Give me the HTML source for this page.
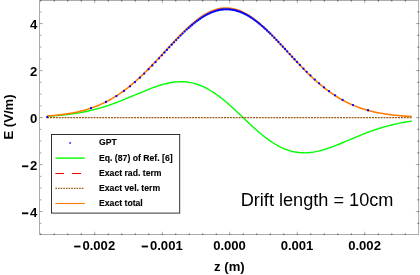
<!DOCTYPE html>
<html><head><meta charset="utf-8"><title>plot</title>
<style>
html,body{margin:0;padding:0;background:#fff;}
body{width:420px;height:275px;overflow:hidden;}
svg{display:block;will-change:transform;}
text{font-family:"Liberation Sans",sans-serif;fill:#000;}
.tl text{font-weight:bold;font-size:13.1px;}
.lg text{font-weight:bold;font-size:8.66px;stroke:#000;stroke-width:0.12px;}
</style></head><body>
<svg width="420" height="275" viewBox="0 0 420 275">
<rect width="420" height="275" fill="#fff"/>
<path d="M47.12,116.25 L48.33,116.17 L49.55,116.10 L50.76,116.02 L51.98,115.94 L53.20,115.85 L54.41,115.76 L55.63,115.66 L56.84,115.56 L58.06,115.46 L59.28,115.35 L60.49,115.24 L61.71,115.12 L62.92,115.00 L64.14,114.87 L65.36,114.73 L66.57,114.59 L67.79,114.45 L69.00,114.30 L70.22,114.14 L71.43,113.98 L72.65,113.81 L73.87,113.63 L75.08,113.45 L76.30,113.26 L77.51,113.06 L78.73,112.86 L79.95,112.64 L81.16,112.43 L82.38,112.20 L83.59,111.97 L84.81,111.72 L86.03,111.48 L87.24,111.22 L88.46,110.95 L89.67,110.68 L90.89,110.40 L92.10,110.11 L93.32,109.81 L94.54,109.50 L95.75,109.19 L96.97,108.86 L98.18,108.53 L99.40,108.19 L100.62,107.84 L101.83,107.48 L103.05,107.12 L104.26,106.74 L105.48,106.36 L106.70,105.97 L107.91,105.57 L109.13,105.16 L110.34,104.75 L111.56,104.32 L112.77,103.89 L113.99,103.45 L115.21,103.01 L116.42,102.55 L117.64,102.09 L118.85,101.63 L120.07,101.16 L121.29,100.68 L122.50,100.19 L123.72,99.71 L124.93,99.21 L126.15,98.71 L127.37,98.21 L128.58,97.70 L129.80,97.20 L131.01,96.68 L132.23,96.17 L133.44,95.65 L134.66,95.14 L135.88,94.62 L137.09,94.10 L138.31,93.59 L139.52,93.07 L140.74,92.56 L141.96,92.05 L143.17,91.54 L144.39,91.04 L145.60,90.54 L146.82,90.05 L148.04,89.56 L149.25,89.08 L150.47,88.61 L151.68,88.14 L152.90,87.69 L154.12,87.25 L155.33,86.81 L156.55,86.39 L157.76,85.98 L158.98,85.59 L160.19,85.21 L161.41,84.84 L162.63,84.49 L163.84,84.16 L165.06,83.85 L166.27,83.55 L167.49,83.27 L168.71,83.01 L169.92,82.78 L171.14,82.56 L172.35,82.37 L173.57,82.20 L174.79,82.05 L176.00,81.93 L177.22,81.83 L178.43,81.76 L179.65,81.72 L180.86,81.70 L182.08,81.71 L183.30,81.75 L184.51,81.81 L185.73,81.91 L186.94,82.03 L188.16,82.19 L189.38,82.37 L190.59,82.59 L191.81,82.83 L193.02,83.11 L194.24,83.42 L195.46,83.76 L196.67,84.13 L197.89,84.53 L199.10,84.97 L200.32,85.43 L201.53,85.93 L202.75,86.45 L203.97,87.01 L205.18,87.60 L206.40,88.22 L207.61,88.87 L208.83,89.55 L210.05,90.26 L211.26,90.99 L212.48,91.76 L213.69,92.55 L214.91,93.37 L216.13,94.21 L217.34,95.08 L218.56,95.97 L219.77,96.89 L220.99,97.83 L222.20,98.79 L223.42,99.78 L224.64,100.78 L225.85,101.80 L227.07,102.84 L228.28,103.90 L229.50,104.97 L230.72,106.05 L231.93,107.15 L233.15,108.26 L234.36,109.38 L235.58,110.51 L236.80,111.65 L238.01,112.80 L239.23,113.95 L240.44,115.10 L241.66,116.26 L242.87,117.42 L244.09,118.58 L245.31,119.73 L246.52,120.88 L247.74,122.03 L248.95,123.17 L250.17,124.31 L251.39,125.44 L252.60,126.56 L253.82,127.67 L255.03,128.76 L256.25,129.85 L257.47,130.92 L258.68,131.97 L259.90,133.01 L261.11,134.03 L262.33,135.03 L263.54,136.01 L264.76,136.96 L265.98,137.90 L267.19,138.81 L268.41,139.70 L269.62,140.57 L270.84,141.41 L272.06,142.22 L273.27,143.01 L274.49,143.77 L275.70,144.50 L276.92,145.20 L278.14,145.87 L279.35,146.51 L280.57,147.13 L281.78,147.71 L283.00,148.26 L284.21,148.78 L285.43,149.26 L286.65,149.72 L287.86,150.15 L289.08,150.54 L290.29,150.90 L291.51,151.23 L292.73,151.53 L293.94,151.79 L295.16,152.03 L296.37,152.23 L297.59,152.41 L298.81,152.55 L300.02,152.67 L301.24,152.75 L302.45,152.80 L303.67,152.83 L304.88,152.83 L306.10,152.80 L307.32,152.74 L308.53,152.66 L309.75,152.55 L310.96,152.42 L312.18,152.26 L313.40,152.08 L314.61,151.88 L315.83,151.65 L317.04,151.40 L318.26,151.14 L319.48,150.85 L320.69,150.54 L321.91,150.22 L323.12,149.88 L324.34,149.52 L325.56,149.14 L326.77,148.75 L327.99,148.35 L329.20,147.94 L330.42,147.51 L331.63,147.07 L332.85,146.62 L334.07,146.16 L335.28,145.69 L336.50,145.22 L337.71,144.73 L338.93,144.24 L340.15,143.75 L341.36,143.25 L342.58,142.74 L343.79,142.23 L345.01,141.72 L346.23,141.21 L347.44,140.69 L348.66,140.18 L349.87,139.66 L351.09,139.14 L352.30,138.63 L353.52,138.12 L354.74,137.60 L355.95,137.10 L357.17,136.59 L358.38,136.09 L359.60,135.59 L360.82,135.10 L362.03,134.61 L363.25,134.13 L364.46,133.65 L365.68,133.18 L366.90,132.71 L368.11,132.25 L369.33,131.80 L370.54,131.36 L371.76,130.92 L372.97,130.49 L374.19,130.07 L375.41,129.65 L376.62,129.25 L377.84,128.85 L379.05,128.46 L380.27,128.08 L381.49,127.71 L382.70,127.34 L383.92,126.99 L385.13,126.64 L386.35,126.30 L387.57,125.97 L388.78,125.65 L390.00,125.33 L391.21,125.03 L392.43,124.73 L393.64,124.45 L394.86,124.17 L396.08,123.90 L397.29,123.63 L398.51,123.38 L399.72,123.13 L400.94,122.89 L402.16,122.66 L403.37,122.44 L404.59,122.22 L405.80,122.02 L407.02,121.82 L408.24,121.62 L409.45,121.43 L410.67,121.25 L411.88,121.08" fill="none" stroke="#00ff00" stroke-width="1.4" stroke-linejoin="round"/>
<path d="M47.12,117.5H411.88" fill="none" stroke="#9c5a1a" stroke-width="1.25" stroke-dasharray="2 0.9"/>
<path d="M47.12,116.04 L48.33,115.96 L49.55,115.86 L50.76,115.77 L51.98,115.66 L53.20,115.56 L54.41,115.44 L55.63,115.32 L56.84,115.20 L58.06,115.07 L59.28,114.93 L60.49,114.79 L61.71,114.64 L62.92,114.48 L64.14,114.31 L65.36,114.14 L66.57,113.96 L67.79,113.77 L69.00,113.57 L70.22,113.37 L71.43,113.15 L72.65,112.92 L73.87,112.69 L75.08,112.44 L76.30,112.19 L77.51,111.92 L78.73,111.64 L79.95,111.36 L81.16,111.06 L82.38,110.74 L83.59,110.42 L84.81,110.08 L86.03,109.73 L87.24,109.37 L88.46,108.99 L89.67,108.60 L90.89,108.19 L92.10,107.77 L93.32,107.34 L94.54,106.89 L95.75,106.42 L96.97,105.94 L98.18,105.45 L99.40,104.93 L100.62,104.40 L101.83,103.85 L103.05,103.29 L104.26,102.71 L105.48,102.11 L106.70,101.49 L107.91,100.85 L109.13,100.20 L110.34,99.53 L111.56,98.84 L112.77,98.13 L113.99,97.40 L115.21,96.65 L116.42,95.88 L117.64,95.09 L118.85,94.29 L120.07,93.46 L121.29,92.61 L122.50,91.75 L123.72,90.86 L124.93,89.96 L126.15,89.04 L127.37,88.10 L128.58,87.13 L129.80,86.15 L131.01,85.15 L132.23,84.14 L133.44,83.10 L134.66,82.05 L135.88,80.97 L137.09,79.89 L138.31,78.78 L139.52,77.66 L140.74,76.52 L141.96,75.36 L143.17,74.19 L144.39,73.01 L145.60,71.81 L146.82,70.60 L148.04,69.37 L149.25,68.13 L150.47,66.88 L151.68,65.62 L152.90,64.35 L154.12,63.07 L155.33,61.78 L156.55,60.48 L157.76,59.18 L158.98,57.87 L160.19,56.56 L161.41,55.24 L162.63,53.91 L163.84,52.59 L165.06,51.26 L166.27,49.94 L167.49,48.61 L168.71,47.29 L169.92,45.97 L171.14,44.65 L172.35,43.34 L173.57,42.04 L174.79,40.74 L176.00,39.46 L177.22,38.18 L178.43,36.91 L179.65,35.66 L180.86,34.42 L182.08,33.19 L183.30,31.99 L184.51,30.79 L185.73,29.62 L186.94,28.47 L188.16,27.33 L189.38,26.22 L190.59,25.13 L191.81,24.07 L193.02,23.03 L194.24,22.02 L195.46,21.04 L196.67,20.08 L197.89,19.15 L199.10,18.26 L200.32,17.40 L201.53,16.57 L202.75,15.77 L203.97,15.01 L205.18,14.28 L206.40,13.59 L207.61,12.94 L208.83,12.32 L210.05,11.74 L211.26,11.21 L212.48,10.71 L213.69,10.25 L214.91,9.83 L216.13,9.46 L217.34,9.12 L218.56,8.83 L219.77,8.58 L220.99,8.38 L222.20,8.22 L223.42,8.10 L224.64,8.02 L225.85,7.99 L227.07,8.00 L228.28,8.06 L229.50,8.16 L230.72,8.30 L231.93,8.49 L233.15,8.72 L234.36,8.99 L235.58,9.31 L236.80,9.66 L238.01,10.06 L239.23,10.51 L240.44,10.99 L241.66,11.51 L242.87,12.07 L244.09,12.68 L245.31,13.32 L246.52,13.99 L247.74,14.71 L248.95,15.46 L250.17,16.24 L251.39,17.06 L252.60,17.92 L253.82,18.80 L255.03,19.72 L256.25,20.67 L257.47,21.64 L258.68,22.65 L259.90,23.68 L261.11,24.74 L262.33,25.82 L263.54,26.93 L264.76,28.06 L265.98,29.21 L267.19,30.38 L268.41,31.57 L269.62,32.77 L270.84,34.00 L272.06,35.24 L273.27,36.49 L274.49,37.76 L275.70,39.04 L276.92,40.32 L278.14,41.62 L279.35,42.93 L280.57,44.24 L281.78,45.56 L283.00,46.88 L284.21,48.21 L285.43,49.54 L286.65,50.87 L287.86,52.20 L289.08,53.53 L290.29,54.85 L291.51,56.18 L292.73,57.50 L293.94,58.81 L295.16,60.12 L296.37,61.43 L297.59,62.72 L298.81,64.01 L300.02,65.29 L301.24,66.56 L302.45,67.81 L303.67,69.06 L304.88,70.29 L306.10,71.51 L307.32,72.72 L308.53,73.91 L309.75,75.09 L310.96,76.25 L312.18,77.40 L313.40,78.53 L314.61,79.64 L315.83,80.74 L317.04,81.82 L318.26,82.88 L319.48,83.92 L320.69,84.95 L321.91,85.95 L323.12,86.94 L324.34,87.91 L325.56,88.86 L326.77,89.79 L327.99,90.70 L329.20,91.59 L330.42,92.46 L331.63,93.31 L332.85,94.14 L334.07,94.96 L335.28,95.75 L336.50,96.52 L337.71,97.28 L338.93,98.01 L340.15,98.73 L341.36,99.42 L342.58,100.10 L343.79,100.76 L345.01,101.40 L346.23,102.02 L347.44,102.63 L348.66,103.22 L349.87,103.78 L351.09,104.34 L352.30,104.87 L353.52,105.39 L354.74,105.89 L355.95,106.37 L357.17,106.84 L358.38,107.29 L359.60,107.73 L360.82,108.15 L362.03,108.56 L363.25,108.96 L364.46,109.34 L365.68,109.70 L366.90,110.05 L368.11,110.39 L369.33,110.72 L370.54,111.03 L371.76,111.34 L372.97,111.63 L374.19,111.91 L375.41,112.17 L376.62,112.43 L377.84,112.68 L379.05,112.91 L380.27,113.14 L381.49,113.36 L382.70,113.56 L383.92,113.76 L385.13,113.95 L386.35,114.14 L387.57,114.31 L388.78,114.48 L390.00,114.63 L391.21,114.79 L392.43,114.93 L393.64,115.07 L394.86,115.20 L396.08,115.32 L397.29,115.44 L398.51,115.56 L399.72,115.66 L400.94,115.77 L402.16,115.86 L403.37,115.96 L404.59,116.04 L405.80,116.13 L407.02,116.21 L408.24,116.28 L409.45,116.35 L410.67,116.42 L411.88,116.49" fill="none" stroke="#ff7a00" stroke-width="1.55" stroke-linejoin="round"/>
<g fill="#0000ff"><circle cx="47.12" cy="117.03" r="1.15"/><circle cx="91.00" cy="108.27" r="1.15"/><circle cx="106.00" cy="102.02" r="1.15"/><circle cx="116.40" cy="96.12" r="1.15"/><circle cx="124.00" cy="90.92" r="1.15"/><circle cx="130.00" cy="86.29" r="1.15"/><circle cx="135.00" cy="82.09" r="1.15"/><circle cx="139.90" cy="77.68" r="1.15"/><circle cx="144.20" cy="73.61" r="1.15"/><circle cx="148.60" cy="69.25" r="1.15"/><circle cx="152.30" cy="65.47" r="1.15"/><circle cx="155.50" cy="62.13" r="1.15"/><circle cx="159.10" cy="58.31" r="1.15"/><circle cx="161.90" cy="55.31" r="1.15"/><circle cx="164.50" cy="52.52" r="1.15"/><circle cx="166.90" cy="49.93" r="1.15"/><circle cx="169.30" cy="47.36" r="1.15"/><circle cx="171.80" cy="44.69" r="1.15"/><circle cx="174.00" cy="42.37" r="1.15"/><circle cx="176.20" cy="40.07" r="1.15"/><circle cx="178.40" cy="37.81" r="1.15"/><circle cx="180.60" cy="35.59" r="1.15"/><circle cx="182.60" cy="33.62" r="1.15"/><circle cx="184.70" cy="31.59" r="1.15"/><circle cx="186.80" cy="29.62" r="1.15"/><circle cx="188.70" cy="27.88" r="1.15"/><circle cx="190.40" cy="26.38" r="1.15"/><circle cx="192.05" cy="24.97" r="1.15"/><circle cx="193.69" cy="23.61" r="1.15"/><circle cx="195.31" cy="22.31" r="1.15"/><circle cx="196.92" cy="21.07" r="1.15"/><circle cx="198.52" cy="19.89" r="1.15"/><circle cx="200.11" cy="18.77" r="1.15"/><circle cx="201.69" cy="17.71" r="1.15"/><circle cx="203.25" cy="16.72" r="1.15"/><circle cx="204.80" cy="15.79" r="1.15"/><circle cx="206.34" cy="14.92" r="1.15"/><circle cx="207.87" cy="14.12" r="1.15"/><circle cx="209.39" cy="13.38" r="1.15"/><circle cx="210.89" cy="12.70" r="1.15"/><circle cx="212.38" cy="12.09" r="1.15"/><circle cx="213.86" cy="11.54" r="1.15"/><circle cx="215.33" cy="11.05" r="1.15"/><circle cx="216.79" cy="10.63" r="1.15"/><circle cx="218.24" cy="10.26" r="1.15"/><circle cx="219.68" cy="9.96" r="1.15"/><circle cx="221.10" cy="9.71" r="1.15"/><circle cx="222.52" cy="9.52" r="1.15"/><circle cx="223.92" cy="9.39" r="1.15"/><circle cx="225.31" cy="9.32" r="1.15"/><circle cx="226.69" cy="9.30" r="1.15"/><circle cx="228.07" cy="9.34" r="1.15"/><circle cx="229.50" cy="9.43" r="1.15"/><circle cx="230.93" cy="9.59" r="1.15"/><circle cx="232.31" cy="9.79" r="1.15"/><circle cx="233.69" cy="10.05" r="1.15"/><circle cx="235.08" cy="10.36" r="1.15"/><circle cx="236.48" cy="10.73" r="1.15"/><circle cx="237.90" cy="11.16" r="1.15"/><circle cx="239.32" cy="11.64" r="1.15"/><circle cx="240.76" cy="12.19" r="1.15"/><circle cx="242.21" cy="12.79" r="1.15"/><circle cx="243.67" cy="13.46" r="1.15"/><circle cx="245.14" cy="14.18" r="1.15"/><circle cx="246.62" cy="14.97" r="1.15"/><circle cx="248.11" cy="15.82" r="1.15"/><circle cx="249.61" cy="16.72" r="1.15"/><circle cx="251.13" cy="17.69" r="1.15"/><circle cx="252.66" cy="18.71" r="1.15"/><circle cx="254.20" cy="19.80" r="1.15"/><circle cx="255.75" cy="20.94" r="1.15"/><circle cx="257.31" cy="22.14" r="1.15"/><circle cx="258.89" cy="23.40" r="1.15"/><circle cx="260.48" cy="24.71" r="1.15"/><circle cx="262.08" cy="26.08" r="1.15"/><circle cx="263.69" cy="27.50" r="1.15"/><circle cx="265.31" cy="28.97" r="1.15"/><circle cx="266.95" cy="30.49" r="1.15"/><circle cx="268.60" cy="32.06" r="1.15"/><circle cx="270.30" cy="33.72" r="1.15"/><circle cx="272.20" cy="35.60" r="1.15"/><circle cx="274.30" cy="37.73" r="1.15"/><circle cx="276.40" cy="39.89" r="1.15"/><circle cx="278.40" cy="41.98" r="1.15"/><circle cx="280.60" cy="44.31" r="1.15"/><circle cx="282.80" cy="46.66" r="1.15"/><circle cx="285.00" cy="49.02" r="1.15"/><circle cx="287.20" cy="51.40" r="1.15"/><circle cx="289.70" cy="54.10" r="1.15"/><circle cx="292.10" cy="56.68" r="1.15"/><circle cx="294.50" cy="59.25" r="1.15"/><circle cx="297.10" cy="62.02" r="1.15"/><circle cx="299.90" cy="64.95" r="1.15"/><circle cx="303.50" cy="68.66" r="1.15"/><circle cx="306.70" cy="71.87" r="1.15"/><circle cx="310.40" cy="75.46" r="1.15"/><circle cx="314.80" cy="79.56" r="1.15"/><circle cx="319.10" cy="83.35" r="1.15"/><circle cx="324.00" cy="87.40" r="1.15"/><circle cx="329.00" cy="91.21" r="1.15"/><circle cx="335.00" cy="95.36" r="1.15"/><circle cx="342.60" cy="99.93" r="1.15"/><circle cx="353.00" cy="105.03" r="1.15"/><circle cx="368.00" cy="110.27" r="1.15"/></g>
<rect x="39.5" y="0.5" width="379.1" height="234.0" fill="none" stroke="#a8a8a8" stroke-width="0.95"/>
<path d="M40.75,235.00V232.90M40.75,0.00V2.10M54.25,235.00V232.90M54.25,0.00V2.10M67.76,235.00V232.90M67.76,0.00V2.10M81.26,235.00V232.90M81.26,0.00V2.10M94.76,235.00V231.70M94.76,0.00V3.30M108.26,235.00V232.90M108.26,0.00V2.10M121.76,235.00V232.90M121.76,0.00V2.10M135.27,235.00V232.90M135.27,0.00V2.10M148.77,235.00V232.90M148.77,0.00V2.10M162.27,235.00V231.70M162.27,0.00V3.30M175.77,235.00V232.90M175.77,0.00V2.10M189.27,235.00V232.90M189.27,0.00V2.10M202.78,235.00V232.90M202.78,0.00V2.10M216.28,235.00V232.90M216.28,0.00V2.10M229.78,235.00V231.70M229.78,0.00V3.30M243.28,235.00V232.90M243.28,0.00V2.10M256.78,235.00V232.90M256.78,0.00V2.10M270.29,235.00V232.90M270.29,0.00V2.10M283.79,235.00V232.90M283.79,0.00V2.10M297.29,235.00V231.70M297.29,0.00V3.30M310.79,235.00V232.90M310.79,0.00V2.10M324.29,235.00V232.90M324.29,0.00V2.10M337.80,235.00V232.90M337.80,0.00V2.10M351.30,235.00V232.90M351.30,0.00V2.10M364.80,235.00V231.70M364.80,0.00V3.30M378.30,235.00V232.90M378.30,0.00V2.10M391.80,235.00V232.90M391.80,0.00V2.10M405.31,235.00V232.90M405.31,0.00V2.10M419.10,223.35H417.00M419.10,211.60H415.80M419.10,199.85H417.00M419.10,188.10H417.00M419.10,176.35H417.00M419.10,164.60H415.80M419.10,152.85H417.00M419.10,141.10H417.00M419.10,129.35H417.00M419.10,117.60H415.80M419.10,105.85H417.00M419.10,94.10H417.00M419.10,82.35H417.00M419.10,70.60H415.80M419.10,58.85H417.00M419.10,47.10H417.00M419.10,35.35H417.00M419.10,23.60H415.80M419.10,11.85H417.00" fill="none" stroke="#000" stroke-opacity="0.32" stroke-width="1"/>
<path d="M39.90,223.35H41.40M39.90,211.60H42.60M39.90,199.85H41.40M39.90,188.10H41.40M39.90,176.35H41.40M39.90,164.60H42.60M39.90,152.85H41.40M39.90,141.10H41.40M39.90,129.35H41.40M39.90,117.60H42.60M39.90,105.85H41.40M39.90,94.10H41.40M39.90,82.35H41.40M39.90,70.60H42.60M39.90,58.85H41.40M39.90,47.10H41.40M39.90,35.35H41.40M39.90,23.60H42.60M39.90,11.85H41.40" fill="none" stroke="#000" stroke-opacity="0.42" stroke-width="0.9"/>
<path d="M40.75,235.00V234.00M40.75,0.00V1.00M54.25,235.00V234.00M54.25,0.00V1.00M67.76,235.00V234.00M67.76,0.00V1.00M81.26,235.00V234.00M81.26,0.00V1.00M94.76,235.00V234.00M94.76,0.00V1.00M108.26,235.00V234.00M108.26,0.00V1.00M121.76,235.00V234.00M121.76,0.00V1.00M135.27,235.00V234.00M135.27,0.00V1.00M148.77,235.00V234.00M148.77,0.00V1.00M162.27,235.00V234.00M162.27,0.00V1.00M175.77,235.00V234.00M175.77,0.00V1.00M189.27,235.00V234.00M189.27,0.00V1.00M202.78,235.00V234.00M202.78,0.00V1.00M216.28,235.00V234.00M216.28,0.00V1.00M229.78,235.00V234.00M229.78,0.00V1.00M243.28,235.00V234.00M243.28,0.00V1.00M256.78,235.00V234.00M256.78,0.00V1.00M270.29,235.00V234.00M270.29,0.00V1.00M283.79,235.00V234.00M283.79,0.00V1.00M297.29,235.00V234.00M297.29,0.00V1.00M310.79,235.00V234.00M310.79,0.00V1.00M324.29,235.00V234.00M324.29,0.00V1.00M337.80,235.00V234.00M337.80,0.00V1.00M351.30,235.00V234.00M351.30,0.00V1.00M364.80,235.00V234.00M364.80,0.00V1.00M378.30,235.00V234.00M378.30,0.00V1.00M391.80,235.00V234.00M391.80,0.00V1.00M405.31,235.00V234.00M405.31,0.00V1.00M419.10,223.35H418.10M419.10,211.60H418.10M419.10,199.85H418.10M419.10,188.10H418.10M419.10,176.35H418.10M419.10,164.60H418.10M419.10,152.85H418.10M419.10,141.10H418.10M419.10,129.35H418.10M419.10,117.60H418.10M419.10,105.85H418.10M419.10,94.10H418.10M419.10,82.35H418.10M419.10,70.60H418.10M419.10,58.85H418.10M419.10,47.10H418.10M419.10,35.35H418.10M419.10,23.60H418.10M419.10,11.85H418.10" fill="none" stroke="#000" stroke-opacity="0.27" stroke-width="1"/>
<g class="tl"><text x="115.21" y="249.9" text-anchor="end">0.002</text><rect x="74.16" y="245.60" width="6.3" height="1.8"/><text x="182.72" y="249.9" text-anchor="end">0.001</text><rect x="141.67" y="245.60" width="6.3" height="1.8"/><text x="229.53" y="249.9" text-anchor="middle">0.000</text><text x="297.04" y="249.9" text-anchor="middle">0.001</text><text x="364.55" y="249.9" text-anchor="middle">0.002</text><text x="37.3" y="28.90" text-anchor="end">4</text><text x="37.3" y="75.90" text-anchor="end">2</text><text x="37.3" y="122.90" text-anchor="end">0</text><text x="37.3" y="169.90" text-anchor="end">2</text><rect x="22.0" y="165.40" width="6.3" height="1.8"/><text x="37.3" y="216.90" text-anchor="end">4</text><rect x="22.0" y="212.40" width="6.3" height="1.8"/>
<text x="229.4" y="271.2" text-anchor="middle" font-size="12.75px">z (m)</text>
<text transform="translate(12.6,117) rotate(-90)" text-anchor="middle" font-size="12.5px">E (V/m)</text>
</g>
<g class="lg">
<rect x="51.5" y="134.5" width="128.2" height="78.6" fill="#fff" stroke="#1c1c1c" stroke-width="0.9"/>
<circle cx="70.1" cy="143" r="0.9" fill="#2424ff"/>
<path d="M55.6,158.1H84.6" stroke="#00ff00" stroke-width="1.4"/>
<path d="M55.4,173.45H64M72.1,173.45H81" stroke="#ff0000" stroke-width="1.15"/>
<path d="M55.4,188.45H84.4" stroke="#99581c" stroke-width="1.2" stroke-dasharray="1.6 1.04"/>
<path d="M55.5,203.5H84.7" stroke="#ff7f00" stroke-width="1.15"/>
<text x="99.0" y="145.20">GPT</text><text x="99.0" y="160.60">Eq. (87) of Ref. [6]</text><text x="99.0" y="175.70">Exact rad. term</text><text x="99.0" y="190.50">Exact vel. term</text><text x="99.0" y="205.60">Exact total</text>
</g>
<text x="240.7" y="206.15" font-size="18.15px">Drift length = 10cm</text>
</svg>
</body></html>
